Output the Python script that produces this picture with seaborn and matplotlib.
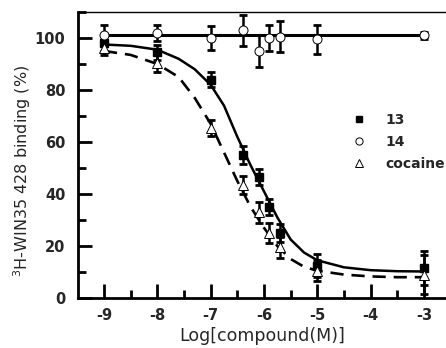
import matplotlib
matplotlib.use("Agg")
import matplotlib.pyplot as plt
from matplotlib.ticker import MultipleLocator
import pandas as pd
import seaborn as sns

# measured log concentrations
log_conc = [-9, -8, -7, -6.4, -6.1, -5.9, -5.7, -5, -3]

binding_13 = [98, 94.5, 84, 55, 46.5, 35, 25, 12.5, 11.5]
err_13 = [3, 3, 3, 3.5, 3, 3, 3.5, 4.5, 6.5]

binding_14 = [101, 102, 100, 103, 95, 100, 100.5, 99.5, 101]
err_14 = [4, 3, 4.5, 6, 6, 5, 6, 5.5, 1.5]

binding_coc = [96, 90.5, 65.5, 43.5, 33, 25, 19.5, 10.5, 9]
err_coc = [2.5, 3.5, 3, 3.5, 4, 4, 4, 4, 7.5]

# fitted curves
curve_x = [-9, -8.5, -8, -7.6, -7.3, -7, -6.75, -6.5, -6.25, -6,
           -5.75, -5.5, -5.25, -5, -4.5, -4, -3.5, -3]
curve_13 = [97.5, 97, 95.5, 92, 88, 82, 74, 62, 51, 41,
            31, 22.5, 17.5, 14.5, 11.8, 10.7, 10.3, 10.2]
curve_coc = [95, 93.5, 90, 85, 77, 67, 56, 45, 35, 27,
             20, 15, 12, 10.5, 9, 8.3, 8, 8]
flat_x = [-9, -3]
flat_14 = [101, 101]

x_ticks = [-9, -8, -7, -6, -5, -4, -3]
y_ticks = [0, 20, 40, 60, 80, 100]

sns.set_theme(style="ticks")
plt.rcParams["font.family"] = ["DejaVu Sans"]

fig = plt.figure(figsize=(4.46, 3.48), dpi=100)
ax = fig.add_axes([78 / 446, 50 / 348, 368 / 446, 286 / 348])

curves = pd.DataFrame({"x": curve_x, "c13": curve_13, "coc": curve_coc})
sns.lineplot(data=curves, x="x", y="c13", ax=ax, color="black", lw=1.8)
sns.lineplot(data=curves, x="x", y="coc", ax=ax, color="black", lw=1.9)
ax.lines[-1].set_linestyle((0, (5, 3)))
sns.lineplot(x=flat_x, y=flat_14, ax=ax, color="black", lw=2.2)

eb = dict(fmt="none", ecolor="black", elinewidth=1.8, capsize=3.2, capthick=2, zorder=3)
ax.errorbar(log_conc, binding_14, yerr=err_14, **eb)
ax.errorbar(log_conc, binding_13, yerr=err_13, **eb)
ax.errorbar(log_conc, binding_coc, yerr=err_coc, **eb)

ax.plot(log_conc, binding_13, "s", color="black", ms=5.5, zorder=4, label="13")
ax.plot(log_conc, binding_14, "o", mfc="white", mec="black", mew=0.7, ms=6.5,
        zorder=4, label="14")
ax.plot(log_conc, binding_coc, "^", mfc="white", mec="black", mew=0.7, ms=7,
        zorder=4, label="cocaine")

ax.set_xlim(-9.4875, -2.587)
ax.set_ylim(0, 110)
ax.set_xticks(x_ticks)
ax.set_xticklabels([str(t) for t in x_ticks])
ax.set_yticks(y_ticks)
ax.xaxis.set_minor_locator(MultipleLocator(0.5))
ax.yaxis.set_minor_locator(MultipleLocator(10))
ax.tick_params(which="both", direction="in", width=2, color="black")
ax.tick_params(which="major", length=10)
ax.tick_params(which="minor", length=6)
ax.tick_params(axis="x", pad=7, labelsize=10.5)
ax.tick_params(axis="y", pad=9, labelsize=10.5)
for lab in ax.get_xticklabels() + ax.get_yticklabels():
    lab.set_fontweight("bold")

ax.spines["left"].set_linewidth(2)
ax.spines["bottom"].set_linewidth(2)
ax.spines["top"].set_linewidth(1)
ax.spines["right"].set_visible(False)
for s in ax.spines.values():
    s.set_color("black")

ax.set_xlabel("Log[compound(M)]", fontsize=12.5, labelpad=3)
ax.set_ylabel("$^3$H-WIN35 428 binding (%)", fontsize=11.5)
ax.yaxis.set_label_coords(-0.122, 0.444)

handles, labels = ax.get_legend_handles_labels()
leg = ax.legend(handles[-3:], labels[-3:], loc="upper left",
                bbox_to_anchor=(0.711, 0.692), frameon=False, fontsize=10,
                handletextpad=1.37, labelspacing=0.6, markerscale=0.8,
                handlelength=1.0)
for t in leg.get_texts():
    t.set_fontweight("bold")

fig.savefig("out.png", dpi=100)
